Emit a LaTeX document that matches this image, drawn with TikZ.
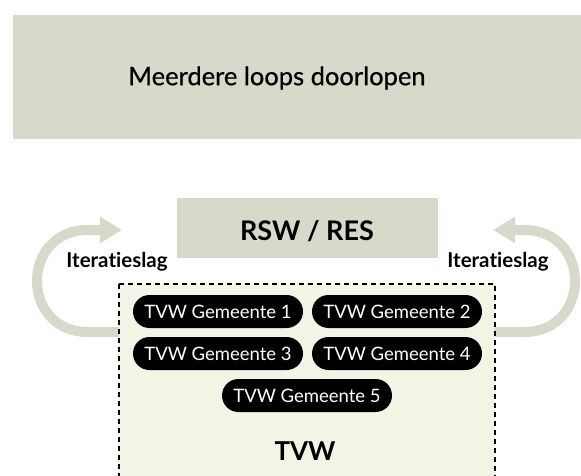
\documentclass[tikz,border=0pt]{standalone}
\usepackage{fontspec}
\setmainfont{Lato}[Ligatures=NoCommon]
\newfontfamily\titlefont{Lato}[Ligatures=NoCommon, FakeBold=0.6]
\usetikzlibrary{arrows.meta}
\definecolor{boxgrey}{HTML}{D9D9CB}
\definecolor{cream}{HTML}{F4F4E6}
\tikzset{
  greybox/.style={fill=boxgrey, draw=none},
  pill/.style={fill=black, text=white, rounded corners=16.5pt, minimum width=170pt, minimum height=33pt, inner sep=0pt, font=\fontsize{18.5}{22}\selectfont},
  loopline/.style={draw=boxgrey, line width=10pt, -{Triangle[width=25pt,length=22pt]}},
  looplabel/.style={font=\fontsize{20.5}{24}\selectfont\bfseries, inner sep=0pt},
}
\begin{document}
\begin{tikzpicture}[x=1pt,y=-1pt]
\useasboundingbox (0,0) rectangle (581,476);
\clip (0,0) rectangle (581,476);
% top banner
\path[greybox] (13,15) rectangle (590,139);
\node[font=\titlefont\fontsize{25.5}{30}\selectfont, inner sep=0pt] (title) at (277,78) {Meerdere loops doorlopen};
% loop arrows
\coordinate (ls) at (119,332);
\coordinate (la) at (88,332);
\coordinate (lb) at (88,230);
\coordinate (lt) at (122,230);
\draw[loopline] (ls) -- (la) .. controls (20,332) and (20,230) .. (lb) -- (lt);
\coordinate (rs) at (495,332);
\coordinate (ra) at (524,332);
\coordinate (rb) at (524,230);
\coordinate (rt) at (493,230);
\draw[loopline] (rs) -- (ra) .. controls (592,332) and (592,230) .. (rb) -- (rt);
\node[looplabel] (itl) at (117,262) {Iteratieslag};
\node[looplabel] (itr) at (498,262) {Iteratieslag};
% RSW box
\path[greybox] (177,198) rectangle (438,258);
\node[font=\fontsize{27}{32}\selectfont\bfseries, inner sep=0pt] (rsw) at (307,231) {RSW / RES};
% TVW dashed area
\draw[fill=cream, dash pattern=on 5pt off 4pt, line width=1.5pt] (119,284) rectangle (495,500);
\node[pill] (g1) at (218,311.5) {TVW Gemeente 1};
\node[pill] (g2) at (397,311.5) {TVW Gemeente 2};
\node[pill] (g3) at (218,353.5) {TVW Gemeente 3};
\node[pill] (g4) at (397,353.5) {TVW Gemeente 4};
\node[pill] (g5) at (307,395.5) {TVW Gemeente 5};
\node[font=\fontsize{26}{31}\selectfont\bfseries, inner sep=0pt] (tvw) at (305,451) {TVW};
\end{tikzpicture}
\end{document}
